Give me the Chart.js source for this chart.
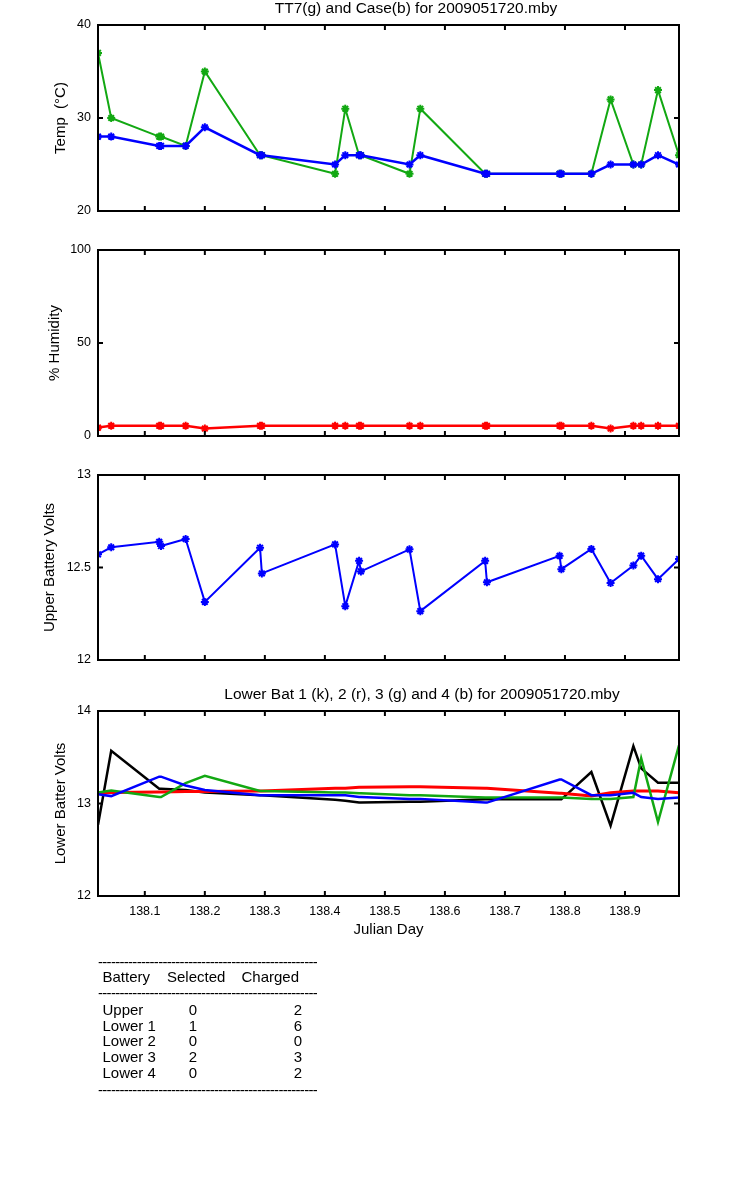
<!DOCTYPE html>
<html>
<head>
<meta charset="utf-8">
<title>2009051720.mby</title>
<script src="https://cdn.jsdelivr.net/npm/chart.js@4.4.0/dist/chart.umd.min.js"></script>
<style>
  body { margin: 0; width: 750px; height: 1200px; overflow: hidden; position: relative; background: #fff;
         font-family: 'Liberation Sans', Arial, sans-serif; color: #000; }
  canvas { position: absolute; left: 0; }
  .t { position: absolute; font-size: 15px; line-height: 16px; white-space: pre; }
  .dash { position: absolute; left: 98px; width: 219px; overflow: hidden; font-size: 15px; line-height: 16px;
          letter-spacing: -0.7px; white-space: pre; }
</style>
</head>
<body>
<canvas id="temp"></canvas>
<canvas id="hum"></canvas>
<canvas id="upper"></canvas>
<canvas id="lower"></canvas>
<div id="table"></div>

<script>
// sample times (Julian day), shared by every panel
const days = [138.022, 138.044, 138.124, 138.127, 138.168, 138.2, 138.292, 138.295,
              138.417, 138.434, 138.457, 138.46, 138.541, 138.559, 138.667, 138.67,
              138.791, 138.794, 138.844, 138.876, 138.914, 138.927, 138.955, 138.99];
const dayTicks = [138.1, 138.2, 138.3, 138.4, 138.5, 138.6, 138.7, 138.8, 138.9];
const dayTickLabels = ['138.1', '138.2', '138.3', '138.4', '138.5', '138.6', '138.7', '138.8', '138.9'];

// panel 1: temperatures
const tt7Temp  = [37, 30, 28, 28, 27, 35, 26, 26, 24, 31, 26, 26, 24, 31, 24, 24, 24, 24, 24, 32, 25, 25, 33, 26];
const caseTemp = [28, 28, 27, 27, 27, 29, 26, 26, 25, 26, 26, 26, 25, 26, 24, 24, 24, 24, 24, 25, 25, 25, 26, 25];
const tempTicks = [20, 30, 40];

// panel 2: humidity
const humidity = [4.5, 5.5, 5.5, 5.5, 5.5, 4, 5.5, 5.5, 5.5, 5.5, 5.5, 5.5,
                  5.5, 5.5, 5.5, 5.5, 5.5, 5.5, 5.5, 4, 5.5, 5.5, 5.5, 5.5];
const humTicks = [0, 50, 100];

// panel 3: upper battery
const upperVolts = [12.571, 12.609, 12.639, 12.616, 12.654, 12.314, 12.607, 12.468,
                    12.625, 12.291, 12.536, 12.479, 12.598, 12.264, 12.536, 12.42,
                    12.563, 12.491, 12.6, 12.416, 12.511, 12.564, 12.437, 12.546];
const upperTicks = [12, 12.5, 13];

// panel 4: lower batteries 1 (k), 2 (r), 3 (g), 4 (b)
const lower1 = [12.77, 13.57, 13.16, 13.16, 13.145, 13.12, 13.09, 13.09, 13.04, 13.03, 13.01, 13.01,
                13.02, 13.02, 13.045, 13.045, 13.045, 13.045, 13.34, 12.76, 13.62, 13.38, 13.225, 13.225];
const lower2 = [13.12, 13.12, 13.125, 13.125, 13.13, 13.13, 13.135, 13.135, 13.165, 13.165, 13.175, 13.175,
                13.18, 13.18, 13.165, 13.165, 13.11, 13.11, 13.08, 13.115, 13.135, 13.135, 13.135, 13.115];
const lower3 = [13.12, 13.14, 13.07, 13.07, 13.22, 13.3, 13.135, 13.135, 13.12, 13.12, 13.11, 13.11,
                13.09, 13.09, 13.065, 13.065, 13.065, 13.065, 13.05, 13.05, 13.07, 13.49, 12.8, 13.63];
const lower4 = [13.1, 13.08, 13.29, 13.29, 13.195, 13.145, 13.09, 13.09, 13.09, 13.09, 13.07, 13.07,
                13.05, 13.05, 13.01, 13.01, 13.26, 13.26, 13.09, 13.09, 13.115, 13.07, 13.05, 13.065];
const lowerTicks = [12, 13, 14];

// summary table
const batteries = ['Upper', 'Lower 1', 'Lower 2', 'Lower 3', 'Lower 4'];
const selected  = [0, 1, 0, 2, 0];
const charged   = [2, 6, 0, 3, 2];

const FONT = "'Liberation Sans', Arial, sans-serif";
Chart.defaults.font.family = FONT;
Chart.defaults.color = '#000';

const BLUE = '#0000ff', GREEN = '#12a812', RED = '#ff0000', BLACK = '#000000';

const pts = ys => days.map((d, i) => ({ x: d, y: ys[i] }));

function series(label, ys, color, width, order, marker) {
  return {
    label, data: pts(ys), order,
    borderColor: color, backgroundColor: color, borderWidth: width, tension: 0,
    pointStyle: 'star', pointRadius: marker ? 4 : 0, pointBorderWidth: 2,
    pointBorderColor: color, pointBackgroundColor: color
  };
}

// matlab style box, inward ticks on all four sides, and the axes title
const boxPlugin = {
  id: 'matlabBox',
  afterDraw(chart, args, opts) {
    const { ctx, chartArea: a, scales } = chart;
    ctx.save();
    ctx.strokeStyle = '#000';
    ctx.lineWidth = 2;
    ctx.strokeRect(a.left, a.top, a.right - a.left, a.bottom - a.top);
    const len = 5;
    ctx.beginPath();
    scales.x.ticks.forEach(t => {
      const px = scales.x.getPixelForValue(t.value);
      ctx.moveTo(px, a.bottom); ctx.lineTo(px, a.bottom - len);
      ctx.moveTo(px, a.top); ctx.lineTo(px, a.top + len);
    });
    scales.y.ticks.forEach(t => {
      const py = scales.y.getPixelForValue(t.value);
      ctx.moveTo(a.left, py); ctx.lineTo(a.left + len, py);
      ctx.moveTo(a.right, py); ctx.lineTo(a.right - len, py);
    });
    ctx.stroke();
    if (opts.text) {
      ctx.fillStyle = '#000';
      ctx.font = '15.5px ' + FONT;
      ctx.textAlign = 'center';
      ctx.textBaseline = 'middle';
      ctx.fillText(opts.text, opts.x, opts.y);
    }
    ctx.restore();
  }
};

function makePanel(p) {
  const cv = document.getElementById(p.id);
  cv.width = 750;
  cv.height = p.height;
  cv.style.top = p.top + 'px';
  const padTop = p.chartTop - p.top;
  const padBottom = p.height - padTop - (p.chartBottom - p.chartTop) - p.xAxisH;
  return new Chart(cv, {
    type: 'line',
    data: { datasets: p.datasets },
    options: {
      responsive: false,
      animation: false,
      devicePixelRatio: 1,
      events: [],
      layout: { padding: { left: 0, right: 71, top: padTop, bottom: padBottom } },
      plugins: {
        legend: { display: false },
        tooltip: { enabled: false },
        matlabBox: { text: p.title, x: p.titleX, y: p.titleY - p.top }
      },
      scales: {
        x: {
          type: 'linear',
          min: days[0],
          max: days[days.length - 1],
          display: p.showX,
          grid: { display: false, drawTicks: false },
          border: { display: false },
          ticks: { font: { size: 12.5 }, padding: 8, maxRotation: 0, autoSkip: false,
                   callback: (v, i) => dayTickLabels[i] },
          title: { display: p.showX, text: 'Julian Day', font: { size: 15 }, padding: 0 },
          afterBuildTicks: s => { s.ticks = dayTicks.map(v => ({ value: v })); },
          afterFit: s => { s.height = p.xAxisH; s.paddingLeft = 0; s.paddingRight = 0; }
        },
        y: {
          type: 'linear',
          min: p.yTicks[0],
          max: p.yTicks[p.yTicks.length - 1],
          grid: { display: false, drawTicks: false },
          border: { display: false },
          ticks: { font: { size: 12.5 }, padding: 7, callback: v => String(v) },
          title: { display: true, text: p.yTitle, font: { size: 15 },
                   padding: { top: p.yTitleX - 9, bottom: 0 } },
          afterBuildTicks: s => { s.ticks = p.yTicks.map(v => ({ value: v })); },
          afterFit: s => { s.width = 98; s.paddingTop = 0; s.paddingBottom = 0; }
        }
      }
    },
    plugins: [boxPlugin]
  });
}

makePanel({
  id: 'temp', top: 0, height: 230, chartTop: 25, chartBottom: 211, xAxisH: 0, showX: false,
  title: 'TT7(g) and Case(b) for 2009051720.mby', titleX: 416, titleY: 9,
  yTitle: 'Temp  (°C)', yTitleX: 61, yTicks: tempTicks,
  datasets: [
    series('Case', caseTemp, BLUE, 2.5, 1, true),
    series('TT7', tt7Temp, GREEN, 2, 2, true)
  ]
});

makePanel({
  id: 'hum', top: 230, height: 230, chartTop: 250, chartBottom: 436, xAxisH: 0, showX: false,
  yTitle: '% Humidity', yTitleX: 55, yTicks: humTicks,
  datasets: [series('Humidity', humidity, RED, 2.5, 1, true)]
});

makePanel({
  id: 'upper', top: 460, height: 220, chartTop: 475, chartBottom: 660, xAxisH: 0, showX: false,
  yTitle: 'Upper Battery Volts', yTitleX: 50, yTicks: upperTicks,
  datasets: [series('Upper', upperVolts, BLUE, 2, 1, true)]
});

makePanel({
  id: 'lower', top: 680, height: 280, chartTop: 711, chartBottom: 896, xAxisH: 43, showX: true,
  title: 'Lower Bat 1 (k), 2 (r), 3 (g) and 4 (b) for 2009051720.mby', titleX: 422, titleY: 695,
  yTitle: 'Lower Batter Volts', yTitleX: 61, yTicks: lowerTicks,
  datasets: [
    series('Lower 4', lower4, BLUE, 2.5, 1, false),
    series('Lower 3', lower3, GREEN, 2.5, 2, false),
    series('Lower 2', lower2, RED, 3, 3, false),
    series('Lower 1', lower1, BLACK, 2.5, 4, false)
  ]
});

// summary table as text
const table = document.getElementById('table');
function put(cls, text, left, cy, align) {
  const d = document.createElement('div');
  d.className = cls;
  d.textContent = text;
  d.style.top = (cy - 8) + 'px';
  if (cls === 't') {
    if (align === 'center') { d.style.left = (left - 30) + 'px'; d.style.width = '60px'; d.style.textAlign = 'center'; }
    else d.style.left = left + 'px';
  }
  table.appendChild(d);
}
const dashes = '-'.repeat(60);
put('dash', dashes, 98, 962);
put('t', 'Battery', 102.5, 977);
put('t', 'Selected', 167, 977);
put('t', 'Charged', 241.5, 977);
put('dash', dashes, 98, 993);
batteries.forEach((b, i) => {
  const cy = 1010 + i * 15.7;
  put('t', b, 102.5, cy);
  put('t', String(selected[i]), 193, cy, 'center');
  put('t', String(charged[i]), 298, cy, 'center');
});
put('dash', dashes, 98, 1090);
</script>
</body>
</html>
